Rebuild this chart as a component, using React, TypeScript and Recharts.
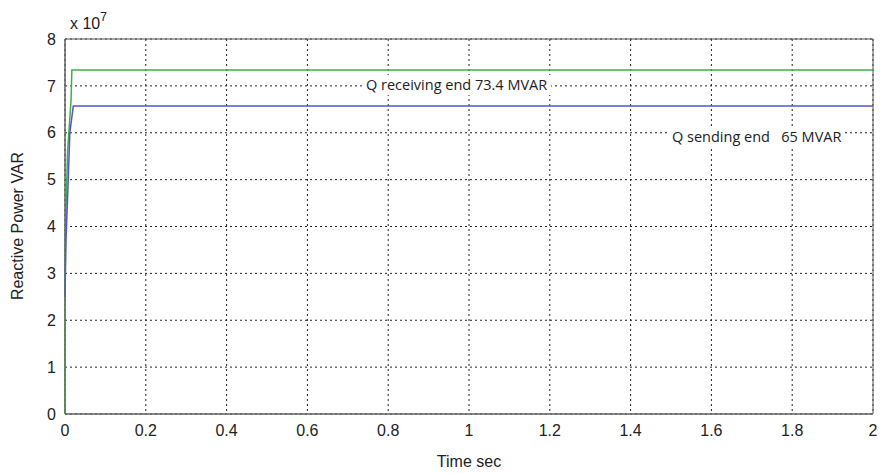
import { LineChart, Line, XAxis, YAxis, CartesianGrid, ReferenceArea } from 'recharts';

// time (s) and reactive power (VAR)
const receivingTime = [0, 0.0005, 0.0064, 0.015, 0.017, 2];
const receivingQ = [0, 3.8e7, 5.6e7, 6.7e7, 7.34e7, 7.34e7];

const sendingTime = [0, 0.0025, 0.008, 0.012, 0.0205, 2];
const sendingQ = [2.5e7, 3.7e7, 5.0e7, 6.0e7, 6.57e7, 6.57e7];

const xTicks = [0, 0.2, 0.4, 0.6, 0.8, 1, 1.2, 1.4, 1.6, 1.8, 2];
const yTicks = [0, 1e7, 2e7, 3e7, 4e7, 5e7, 6e7, 7e7, 8e7];

const receivingData = receivingTime.map((t, i) => ({ t, q: receivingQ[i] }));
const sendingData = sendingTime.map((t, i) => ({ t, q: sendingQ[i] }));

const FONT = '"Liberation Sans", Arial, sans-serif';
const NOTE_FONT = '"Open Sans", "Noto Sans", sans-serif';

const noteStyle: React.CSSProperties = {
  position: 'absolute',
  padding: '0 4px',
  background: '#fff',
  fontFamily: NOTE_FONT,
  fontSize: 14.5,
  lineHeight: '20px',
  color: '#222',
  whiteSpace: 'pre',
};

export default function App() {
  const tickStyle = { fontSize: 16, fill: '#222', fontFamily: FONT };

  return (
    <div style={{ position: 'absolute', left: 0, top: 0, width: 882, height: 473, background: '#fff' }}>
      <LineChart width={882} height={473} margin={{ top: 39, right: 9, bottom: 29, left: 0 }}>
        <CartesianGrid
          stroke="#222"
          strokeDasharray="2 3"
          horizontalValues={yTicks}
          verticalValues={xTicks}
        />
        <XAxis
          type="number"
          dataKey="t"
          domain={[0, 2]}
          ticks={xTicks}
          tickFormatter={(v) => String(v)}
          height={30}
          tickLine={false}
          tickSize={0}
          tickMargin={11}
          axisLine={{ stroke: '#666' }}
          tick={tickStyle}
          allowDuplicatedCategory={false}
        />
        <YAxis
          type="number"
          domain={[0, 8e7]}
          ticks={yTicks}
          tickFormatter={(v) => String(v / 1e7)}
          width={65}
          tickLine={false}
          tickSize={0}
          tickMargin={9}
          axisLine={{ stroke: '#666' }}
          tick={tickStyle}
        />
        <Line
          data={receivingData}
          dataKey="q"
          type="linear"
          stroke="#3fae49"
          strokeWidth={1.5}
          dot={false}
          isAnimationActive={false}
        />
        <Line
          data={sendingData}
          dataKey="q"
          type="linear"
          stroke="#5555cc"
          strokeWidth={1.5}
          dot={false}
          isAnimationActive={false}
        />
        <ReferenceArea x1={0} x2={2} y1={0} y2={8e7} fill="none" fillOpacity={0} stroke="#555" strokeWidth={1} />
      </LineChart>

      {/* exponent */}
      <div style={{ position: 'absolute', left: 70, top: 12, fontFamily: FONT, fontSize: 16, color: '#222' }}>
        x 10<sup style={{ fontSize: 12, position: 'relative', top: -2 }}>7</sup>
      </div>

      {/* annotations */}
      <div style={{ ...noteStyle, left: 362, top: 75 }}>Q receiving end 73.4 MVAR</div>
      <div style={{ ...noteStyle, left: 668, top: 127 }}>Q sending end   65 MVAR</div>

      {/* axis titles */}
      <div
        style={{
          position: 'absolute',
          left: 18,
          top: 226,
          transform: 'translate(-50%, -50%) rotate(-90deg)',
          fontFamily: FONT,
          fontSize: 16,
          color: '#222',
          whiteSpace: 'nowrap',
        }}
      >
        Reactive Power VAR
      </div>
      <div
        style={{
          position: 'absolute',
          left: 469,
          top: 462,
          transform: 'translate(-50%, -50%)',
          fontFamily: FONT,
          fontSize: 16,
          color: '#222',
          whiteSpace: 'nowrap',
        }}
      >
        Time sec
      </div>
    </div>
  );
}
